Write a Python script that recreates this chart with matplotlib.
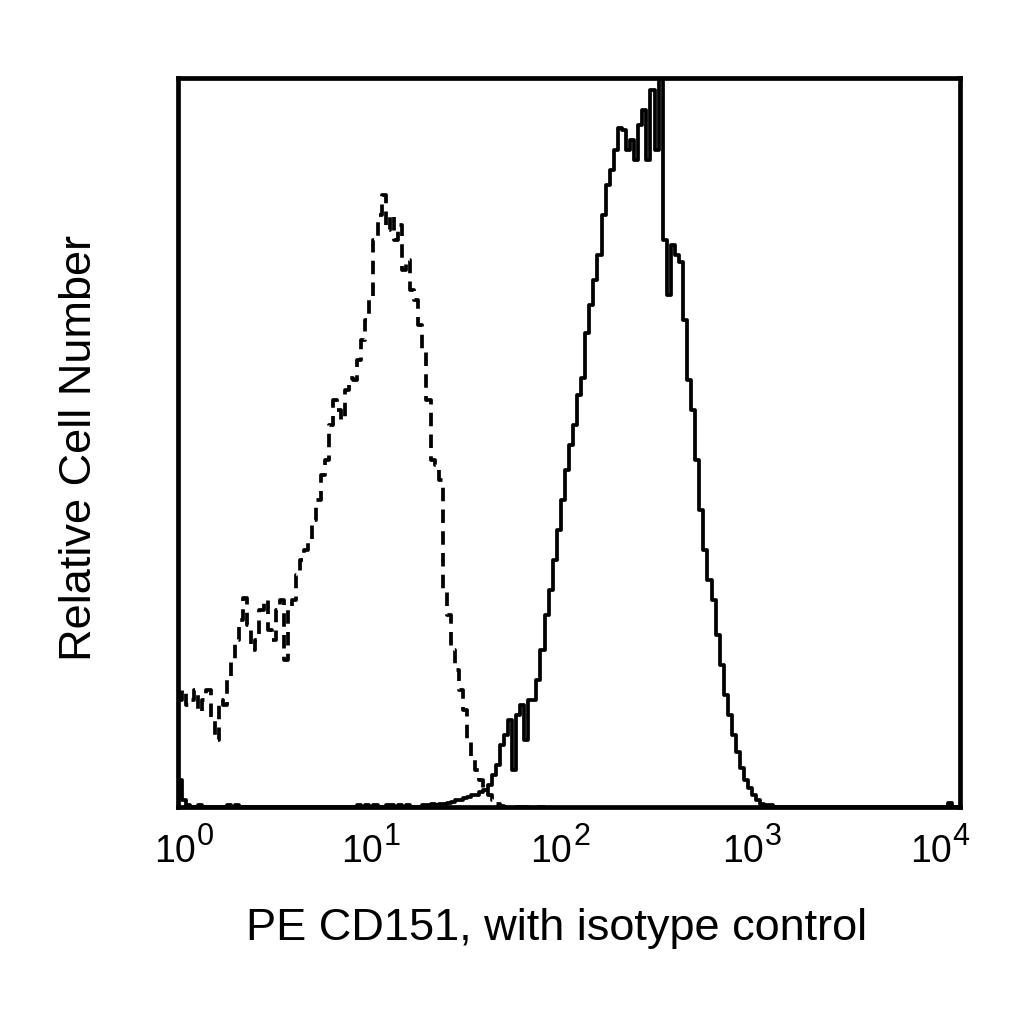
import numpy as np
import matplotlib
matplotlib.use("Agg")
import matplotlib.pyplot as plt
from matplotlib.ticker import FixedLocator, NullFormatter

plt.rcParams['font.family'] = ['Liberation Sans', 'DejaVu Sans']

# Histogram channels: 48 channels per decade, starting at 10^0
channels_per_decade = 48

# Isotype control (dashed), relative cell number 0-100
iso_counts = [14.7, 16.0, 14.0, 14.7, 16.0, 13.0, 14.7, 16.0, 12.2, 9.2,
              14.7, 14.0, 17.4, 20.2, 22.9, 25.7, 28.7, 25.0, 21.5, 22.9,
              27.0, 28.4, 24.3, 22.9, 27.0, 28.4, 20.2, 27.0, 28.4, 31.8,
              33.9, 35.3, 36.6, 39.4, 42.1, 45.5, 47.6, 52.4, 55.8, 54.5,
              53.1, 57.2, 58.8, 58.6, 61.3, 64.1, 66.8, 69.5, 77.8, 81.2,
              83.9, 79.1, 81.2, 77.8, 79.8, 73.7, 75.0, 70.9, 69.5, 66.1,
              62.7, 55.8, 47.6, 46.9, 44.9, 29.8, 26.3, 21.5, 18.8, 16.0,
              13.3, 9.2, 6.4, 5.1, 3.7, 2.3, 1.6, 1.0, 0.4, 0.1,
              0.0, 0.0, 0.0, 0.0, 0.0, 0.0, 0.0, 0.0, 0.0, 0.0]

# PE CD151 (solid), relative cell number 0-100
cd151_counts = [3.7, 1.0, 0.3, 0.0, 0.0, 0.3, 0.0, 0.0, 0.0, 0.0,
                0.0, 0.0, 0.3, 0.0, 0.3, 0.0, 0.0, 0.0, 0.0, 0.0,
                0.0, 0.0, 0.0, 0.0, 0.0, 0.0, 0.0, 0.0, 0.0, 0.0,
                0.0, 0.0, 0.0, 0.0, 0.0, 0.0, 0.0, 0.0, 0.0, 0.0,
                0.0, 0.0, 0.0, 0.0, 0.3, 0.0, 0.3, 0.0, 0.3, 0.0,
                0.0, 0.3, 0.3, 0.0, 0.3, 0.0, 0.3, 0.0, 0.0, 0.0,
                0.3, 0.3, 0.4, 0.3, 0.4, 0.4, 0.5, 0.7, 1.0, 1.0,
                1.2, 1.4, 1.6, 1.6, 2.1, 2.3, 3.0, 4.4, 5.8, 8.5,
                9.9, 11.9, 5.1, 12.6, 14.0, 9.2, 14.7, 14.7, 17.4, 21.5,
                26.3, 29.8, 33.9, 38.0, 42.1, 46.2, 49.7, 52.4, 56.5, 58.8,
                65.0, 68.9, 72.3, 75.7, 81.2, 85.3, 87.4, 90.1, 93.1, 92.9,
                90.1, 91.5, 88.8, 93.6, 95.6, 88.8, 98.4, 90.1, 100.0, 77.8,
                70.2, 77.1, 75.7, 74.8, 66.8, 58.6, 54.5, 47.6, 40.7, 35.3,
                31.1, 28.4, 23.6, 19.5, 15.4, 12.6, 9.9, 7.5, 5.3, 3.7,
                2.6, 1.6, 1.0, 0.4, 0.3, 0.3, 0.0, 0.0, 0.0, 0.0,
                0.0, 0.0, 0.0, 0.0, 0.0, 0.0, 0.0, 0.0, 0.0, 0.0,
                0.0, 0.0, 0.0, 0.0, 0.0, 0.0, 0.0, 0.0, 0.0, 0.0,
                0.0, 0.0, 0.0, 0.0, 0.0, 0.0, 0.0, 0.0, 0.0, 0.0,
                0.0, 0.0, 0.0, 0.0, 0.0, 0.0, 0.0, 0.0, 0.0, 0.5,
                0.0, 0.0]

tick_values = [1, 10, 100, 1000, 10000]
tick_base = '10'
tick_exponents = ['0', '1', '2', '3', '4']
# label centres in axes fraction (labels in the reference sit slightly compressed)
tick_label_pos = [0.007, 0.2455, 0.488, 0.7327, 0.9731]
x_label = 'PE CD151, with isotype control'
y_label = 'Relative Cell Number'


def step_xy(counts):
    n = len(counts)
    edges = 10 ** (np.arange(n + 1) / channels_per_decade)
    y = np.concatenate([counts, [counts[-1]]])
    return edges, y


fig = plt.figure(figsize=(10.24, 10.24), dpi=100)
ax = fig.add_axes([0.1738, 0.2119, 0.7637, 0.7119])

ex, ey = step_xy(iso_counts)
ax.step(ex, ey, where='post', color='black', lw=2.7, linestyle=(0, (3.6, 2.2)))
ex, ey = step_xy(cd151_counts)
ax.step(ex, ey, where='post', color='black', lw=2.7)

ax.set_xscale('log')
ax.set_xlim(1, 10000)
ax.set_ylim(0, 100)
ax.xaxis.set_major_locator(FixedLocator(tick_values))
ax.xaxis.set_major_formatter(NullFormatter())
ax.xaxis.set_minor_locator(FixedLocator([]))
ax.xaxis.set_minor_formatter(NullFormatter())
ax.set_yticks([])
ax.tick_params(axis='x', length=0)
for s in ax.spines.values():
    s.set_linewidth(3.4)

# tick labels: "10" plus a raised exponent
for pos, e in zip(tick_label_pos, tick_exponents):
    ax.annotate(tick_base, xy=(pos, 0), xycoords='axes fraction',
                xytext=(12.5, -55), textcoords='offset pixels',
                ha='right', va='baseline', fontsize=27)
    ax.annotate(e, xy=(pos, 0), xycoords='axes fraction',
                xytext=(13.5, -38), textcoords='offset pixels',
                ha='left', va='baseline', fontsize=22)

fig.text(556.5 / 1024, 1 - 940 / 1024, x_label, ha='center', va='baseline',
         fontsize=32.5)
fig.text(91 / 1024, 1 - 447.5 / 1024, y_label, ha='center', va='baseline',
         rotation=90, rotation_mode='anchor', fontsize=32.5)

fig.savefig('out.png', dpi=100, facecolor='white')
